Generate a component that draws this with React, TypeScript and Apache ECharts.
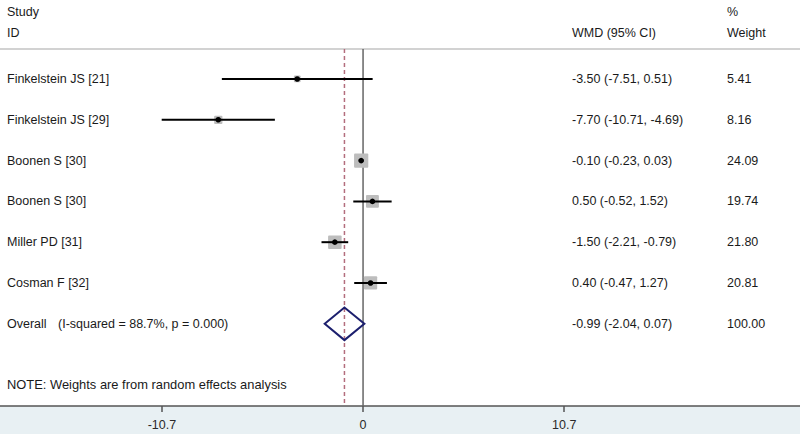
import React, { useEffect, useRef } from "react";
import * as echarts from "echarts";

// ---- data ----
const studies = [
  "Finkelstein JS [21]",
  "Finkelstein JS [29]",
  "Boonen S [30]",
  "Boonen S [30]",
  "Miller PD [31]",
  "Cosman F [32]",
];
const wmd = [-3.5, -7.7, -0.1, 0.5, -1.5, 0.4];
const ciLow = [-7.51, -10.71, -0.23, -0.52, -2.21, -0.47];
const ciHigh = [0.51, -4.69, 0.03, 1.52, -0.79, 1.27];
const weights = [5.41, 8.16, 24.09, 19.74, 21.8, 20.81];

const overallLabel = "Overall";
const overallNote = "(I-squared = 88.7%, p = 0.000)";
const overallEst = -0.99;
const overallLow = -2.04;
const overallHigh = 0.07;
const overallWeight = 100.0;

const noteText = "NOTE: Weights are from random effects analysis";
const xTicks = [-10.7, 0, 10.7];
const xTickLabels = ["-10.7", "0", "10.7"];

const FONT = "'Liberation Sans', Arial, sans-serif";
const FS = 12.5;
const TXT = "#1a1a1a";

export default function App() {
  const ref = useRef<HTMLDivElement>(null);

  useEffect(() => {
    if (!ref.current) return;
    const chart = echarts.init(ref.current, undefined, { renderer: "svg" });

    const nRows = studies.length;
    const overallRow = nRows;
    const noteRow = nRows + 1.5;

    const studyData = studies.map((_, i) => [wmd[i], i, ciLow[i], ciHigh[i], weights[i]]);

    const fmt = (v: number) => v.toFixed(2);
    const textRows: any[] = studies.map((s, i) => [
      i,
      s,
      "",
      `${fmt(wmd[i])} (${fmt(ciLow[i])}, ${fmt(ciHigh[i])})`,
      fmt(weights[i]),
    ]);
    textRows.push([
      overallRow,
      overallLabel,
      overallNote,
      `${fmt(overallEst)} (${fmt(overallLow)}, ${fmt(overallHigh)})`,
      fmt(overallWeight),
    ]);
    textRows.push([noteRow, noteText, "", "", ""]);

    const yMin = -0.735;
    const yMax = 8.015;

    const txt = (x: number, y: number, text: string, size: number = FS) => ({
      type: "text",
      x,
      y,
      style: {
        text,
        fill: TXT,
        fontSize: size,
        fontFamily: FONT,
        align: "left",
        verticalAlign: "middle",
      },
    });

    chart.setOption({
      animation: false,
      backgroundColor: "#e8f0f3",
      grid: {
        left: 0,
        right: 0,
        top: 49,
        bottom: 28,
        show: true,
        backgroundColor: "#ffffff",
        borderWidth: 0,
      },
      xAxis: {
        type: "value",
        min: -19.31,
        max: 23.24,
        splitLine: { show: false },
        axisLine: { show: true, onZero: false, lineStyle: { color: "#555", width: 1.5 } },
        axisTick: {
          show: true,
          customValues: xTicks,
          inside: false,
          length: 6,
          lineStyle: { color: "#555", width: 1.5 },
        },
        axisLabel: {
          customValues: xTicks,
          formatter: (v: number) => xTickLabels[xTicks.indexOf(v)] ?? String(v),
          margin: 12,
          fontSize: FS,
          fontFamily: FONT,
          color: "#2a2a2a",
        },
      },
      yAxis: {
        type: "value",
        min: yMin,
        max: yMax,
        inverse: true,
        show: false,
      },
      graphic: [
        { type: "rect", shape: { x: 0, y: 0, width: 800, height: 49 }, style: { fill: "#fff" }, silent: true },
        {
          type: "line",
          shape: { x1: 0, y1: 49, x2: 800, y2: 49 },
          style: { stroke: "#d2d2d2", lineWidth: 2 },
          silent: true,
        },
        txt(7, 12, "Study"),
        txt(7, 33, "ID"),
        txt(572, 33, "WMD (95% CI)"),
        txt(727, 12, "%"),
        txt(727, 33, "Weight"),
      ],
      series: [
        {
          type: "line",
          z: 1,
          silent: true,
          showSymbol: false,
          data: [
            [0, yMin],
            [0, yMax],
          ],
          lineStyle: { color: "#666", width: 1.5 },
        },
        {
          type: "line",
          z: 1,
          silent: true,
          showSymbol: false,
          data: [
            [overallEst, yMin],
            [overallEst, yMax],
          ],
          lineStyle: { color: "#b36d7d", width: 1.5, type: [4, 3] },
        },
        {
          type: "custom",
          z: 3,
          silent: true,
          data: studyData,
          encode: { x: [0, 2, 3], y: 1 },
          renderItem: (params: any, api: any) => {
            const y = api.value(1);
            const c = api.coord([api.value(0), y]);
            const l = api.coord([api.value(2), y]);
            const h = api.coord([api.value(3), y]);
            const s = 2.9 * Math.sqrt(api.value(4));
            return {
              type: "group",
              children: [
                {
                  type: "rect",
                  shape: { x: c[0] - s / 2, y: c[1] - s / 2, width: s, height: s, r: 1 },
                  style: { fill: "#bdbdbd" },
                },
                {
                  type: "line",
                  shape: { x1: l[0], y1: l[1], x2: h[0], y2: h[1] },
                  style: { stroke: "#000", lineWidth: 2 },
                },
                {
                  type: "circle",
                  shape: { cx: c[0], cy: c[1], r: 2.8 },
                  style: { fill: "#000" },
                },
              ],
            };
          },
        },
        {
          type: "custom",
          z: 3,
          silent: true,
          data: [[overallEst, overallRow, overallLow, overallHigh]],
          encode: { x: [0, 2, 3], y: 1 },
          renderItem: (params: any, api: any) => {
            const y = api.value(1);
            const hh = 0.4;
            const l = api.coord([api.value(2), y]);
            const r = api.coord([api.value(3), y]);
            const t = api.coord([api.value(0), y - hh]);
            const b = api.coord([api.value(0), y + hh]);
            return {
              type: "polygon",
              shape: { points: [l, t, r, b] },
              style: { fill: "none", stroke: "#1c1f6e", lineWidth: 2 },
            };
          },
        },
        {
          type: "custom",
          z: 4,
          silent: true,
          data: textRows,
          encode: { y: 0 },
          renderItem: (params: any, api: any) => {
            const row = textRows[params.dataIndex];
            const cy = api.coord([0, row[0]])[1];
            const isNote = row[1] === noteText;
            const children: any[] = [txt(7, cy, row[1], isNote ? 12.9 : FS)];
            if (row[2]) children.push(txt(58, cy, row[2]));
            if (row[3]) children.push(txt(572, cy, row[3]));
            if (row[4]) children.push(txt(727, cy, row[4]));
            return { type: "group", children };
          },
        },
      ],
    });

    return () => chart.dispose();
  }, []);

  return (
    <div
      ref={ref}
      style={{ position: "absolute", left: 0, top: 0, width: 800, height: 434 }}
    />
  );
}
